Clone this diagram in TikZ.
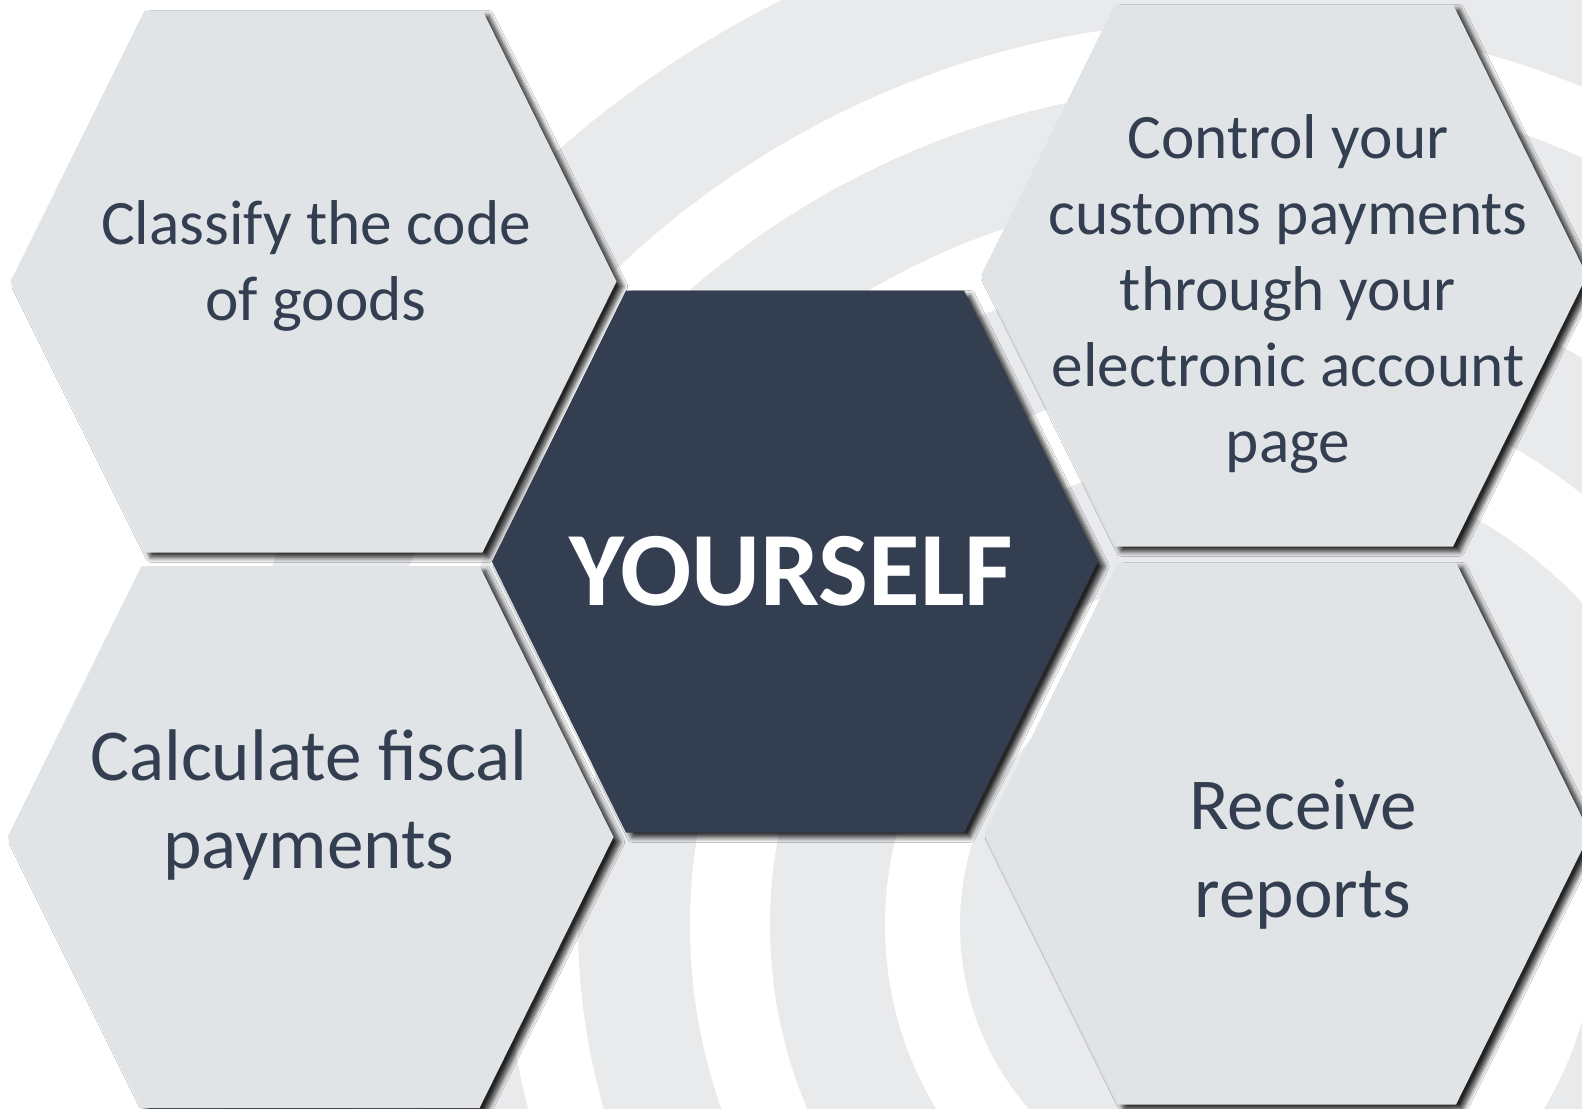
\documentclass[tikz,border=0pt]{standalone}
\usepackage{fontspec}
\setmainfont{Carlito}
\usepackage{xcolor}
\usepackage{tikz}
\usetikzlibrary{positioning}
\usetikzlibrary{calc}
\usetikzlibrary{shadows.blur}

\definecolor{ringgray}{HTML}{E9EAEC}
\definecolor{hexgray}{HTML}{E1E4E6}
\definecolor{hexdark}{HTML}{333E50}

\tikzset{
	hexshadow/.style={blur shadow={shadow xshift=1.8pt,shadow yshift=-1.4pt,shadow blur radius=1.4pt,shadow blur steps=8,shadow opacity=85}},
	lbl/.style={align=center,text=hexdark,font=\fontsize{18}{21.6}\selectfont},
	lblbig/.style={align=center,text=hexdark,font=\fontsize{20.8}{24.9}\selectfont},
	lblcore/.style={text=white,font=\bfseries\fontsize{30}{36}\selectfont}
}

\newcommand{\hexcell}[2]{\fill[#2,hexshadow,shift={(#1)}] (-303,0) -- (-169,-271) -- (169,-271) -- (303,0) -- (169,271) -- (-169,271) -- cycle;}

\begin{document}
\begin{tikzpicture}[x=0.01cm,y=-0.01cm]

			\useasboundingbox (0,0) rectangle (1582,1108);
			\fill[white] (0,0) rectangle (1582,1108);

			\begin{scope}
				\clip (0,0) rectangle (1582,1108);
				\foreach \r/\c in {1032/ringgray,905/white,840/ringgray,735/white,662/ringgray,550/white,470/ringgray,355/white,280/ringgray}
					\fill[\c] (1240,925) circle (\r);
			\end{scope}

			\coordinate (tl) at (313.5, 281.5);
			\coordinate (tr) at (1284, 275.5);
			\coordinate (bl) at (310.5, 837);
			\coordinate (br) at (1287, 833.5);
			\coordinate (core) at (795, 561.5);

			\hexcell{tl}{hexgray}
			\hexcell{tr}{hexgray}
			\hexcell{bl}{hexgray}
			\hexcell{br}{hexgray}
			\hexcell{core}{hexdark}

			\node[lbl] (classify) at (316, 266) {Classify the code\\of goods};
			\node[lbl] (control) at (1288, 294) {Control your\\customs payments\\through your\\electronic account\\page};
			\node[lblbig] (calculate) at (309, 805) {Calculate fiscal\\payments};
			\node[lblbig] (receive) at (1303, 854) {Receive\\reports};
			\node[lblcore] (yourself) at (791, 571) {YOURSELF};

		\end{tikzpicture}
\end{document}
